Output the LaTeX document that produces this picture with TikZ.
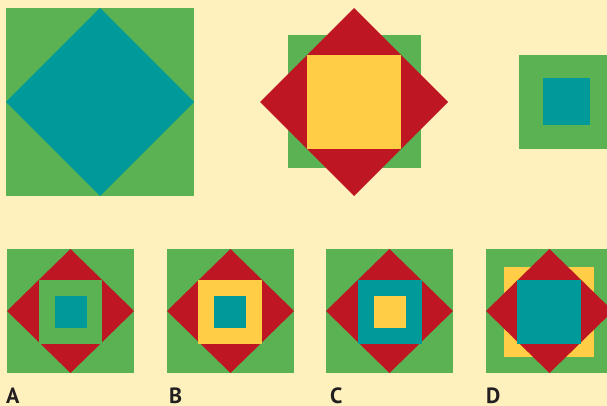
\documentclass[tikz,border=0pt]{standalone}
\usepackage{fontspec}
\setmainfont{PT Sans}
\definecolor{bgc}{HTML}{FEF1BE}
\definecolor{grn}{HTML}{5AB252}
\definecolor{tea}{HTML}{009A9A}
\definecolor{rd}{HTML}{BE1622}
\definecolor{yel}{HTML}{FFCD46}
\definecolor{ink}{HTML}{231F20}
\tikzset{
  lbl/.style={anchor=base west, inner sep=0pt, text=ink, font=\fontsize{22}{22}\selectfont\bfseries}
}
\newcommand\mysq[4]{\fill[#4] (#1-#3,#2-#3) rectangle (#1+#3,#2+#3);}
\newcommand\mydia[4]{\fill[#4] (#1,#2-#3) -- (#1+#3,#2) -- (#1,#2+#3) -- (#1-#3,#2) -- cycle;}
\newcommand\botbase[1]{%
  \fill[grn] (#1-63.5,249) rectangle (#1+63.5,373);
  \fill[rd] (#1,249) -- (#1+63.5,311) -- (#1,373) -- (#1-63.5,311) -- cycle;}
\begin{document}
\begin{tikzpicture}[x=1pt,y=-1pt]
\useasboundingbox (0,0) rectangle (607,406);
\fill[bgc] (0,0) rectangle (607,406);
\clip (0,0) rectangle (607,406);
% top left
\mysq{100}{102}{94}{grn}
\mydia{100}{102}{94}{tea}
% top middle
\mysq{354}{102}{66.5}{grn}
\mydia{354}{102}{94}{rd}
\mysq{354}{102}{47}{yel}
% top right
\mysq{566}{102}{47}{grn}
\mysq{566}{102}{23.5}{tea}
% A
\botbase{70.5}
\mysq{70.5}{311.8}{31.8}{grn}
\mysq{71}{312}{16}{tea}
% B
\botbase{230.5}
\mysq{230}{311.8}{32}{yel}
\mysq{230}{312}{16}{tea}
% C
\botbase{389.5}
\mysq{390}{311.8}{32}{tea}
\mysq{390}{312}{16}{yel}
% D
\fill[grn] (549.5-63.5,249) rectangle (549.5+63.5,373);
\mysq{549}{312}{45}{yel}
\fill[rd] (549.5,249) -- (549.5+63.5,311) -- (549.5,373) -- (549.5-63.5,311) -- cycle;
\mysq{549}{311.8}{32}{tea}
% labels
\node[lbl] (la) at (6,403) {A};
\node[lbl] (lb) at (169,403) {B};
\node[lbl] (lc) at (330,403) {C};
\node[lbl] (ld) at (486,403) {D};
\end{tikzpicture}
\end{document}
